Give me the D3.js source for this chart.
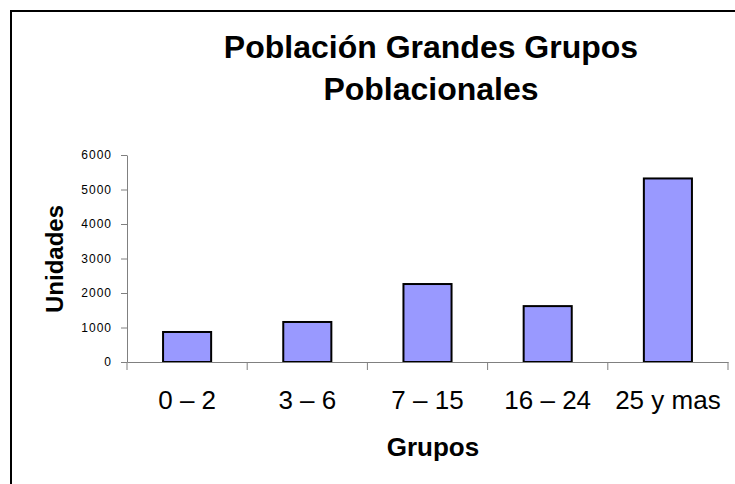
<!DOCTYPE html>
<html><head><meta charset="utf-8">
<script src="https://cdn.jsdelivr.net/npm/d3@7"></script>
<style>body{margin:0;background:#fff}svg{display:block}</style>
</head><body>
<script>
const categories = ["0 – 2", "3 – 6", "7 – 15", "16 – 24", "25 y mas"];
const values = [870, 1160, 2260, 1620, 5320];
const yTicks = [0, 1000, 2000, 3000, 4000, 5000, 6000];
const titleLines = ["Población Grandes Grupos", "Poblacionales"];
const xTitle = "Grupos";
const yTitle = "Unidades";

(function () {
const W = 735, H = 484;
const svg = d3.select("body").append("svg").attr("width", W).attr("height", H);
svg.append("rect").attr("x", 11).attr("y", 11).attr("width", 740).attr("height", 490)
  .attr("fill", "#fff").attr("stroke", "#000").attr("stroke-width", 2);

const mLeft = 127, mRight = 728, mTop = 155, mBottom = 362;
const x = d3.scaleBand().domain(categories).range([mLeft, mRight]).paddingInner(0.6).paddingOuter(0.3);
const xb = d3.scaleBand().domain(categories).range([mLeft, mRight]);
const y = d3.scaleLinear().domain([0, 6000]).range([mBottom, mTop]);

const font = "'Liberation Sans', Arial, sans-serif";

// bars
svg.selectAll("rect.bar").data(values).enter().append("rect")
  .attr("class", "bar")
  .attr("x", (d, i) => x(categories[i]))
  .attr("width", x.bandwidth())
  .attr("y", d => y(d))
  .attr("height", d => mBottom - y(d))
  .attr("fill", "#9999FF").attr("stroke", "#000").attr("stroke-width", 2);

// y axis
const ya = svg.append("g").attr("transform", `translate(${mLeft},0)`)
  .call(d3.axisLeft(y).tickValues(yTicks).tickFormat(d3.format("d")).tickSize(6).tickPadding(9).tickSizeOuter(0));
ya.select(".domain").attr("stroke", "#808080");
ya.selectAll(".tick line").attr("stroke", "#808080");
ya.selectAll("text").attr("font-family", font).attr("font-size", 12).attr("letter-spacing", 1).attr("fill", "#000");

// x axis
const xa = svg.append("g").attr("transform", `translate(0,${mBottom})`)
  .call(d3.axisBottom(xb).tickSize(0).tickSizeOuter(0).tickPadding(0));
xa.select(".domain").attr("stroke", "#808080");
xa.selectAll("text").attr("font-family", font).attr("font-size", 26).attr("fill", "#000")
  .attr("dy", null).attr("y", 47);
const bounds = categories.map(c => xb(c)).concat([mRight]);
svg.selectAll("line.xt").data(bounds).enter().append("line")
  .attr("x1", d => d).attr("x2", d => d).attr("y1", mBottom).attr("y2", mBottom + 8)
  .attr("stroke", "#808080");

// titles
svg.selectAll("text.title").data(titleLines).enter().append("text")
  .attr("x", 431).attr("y", (d, i) => 58 + i * 42)
  .attr("text-anchor", "middle").attr("font-family", font).attr("font-weight", "bold")
  .attr("font-size", 32).text(d => d);

svg.append("text").attr("x", 433).attr("y", 456).attr("text-anchor", "middle")
  .attr("font-family", font).attr("font-weight", "bold").attr("font-size", 26).text(xTitle);

svg.append("text").attr("transform", "translate(63,259) rotate(-90)").attr("text-anchor", "middle")
  .attr("font-family", font).attr("font-weight", "bold").attr("font-size", 24).text(yTitle);
})();
</script>
</body></html>
